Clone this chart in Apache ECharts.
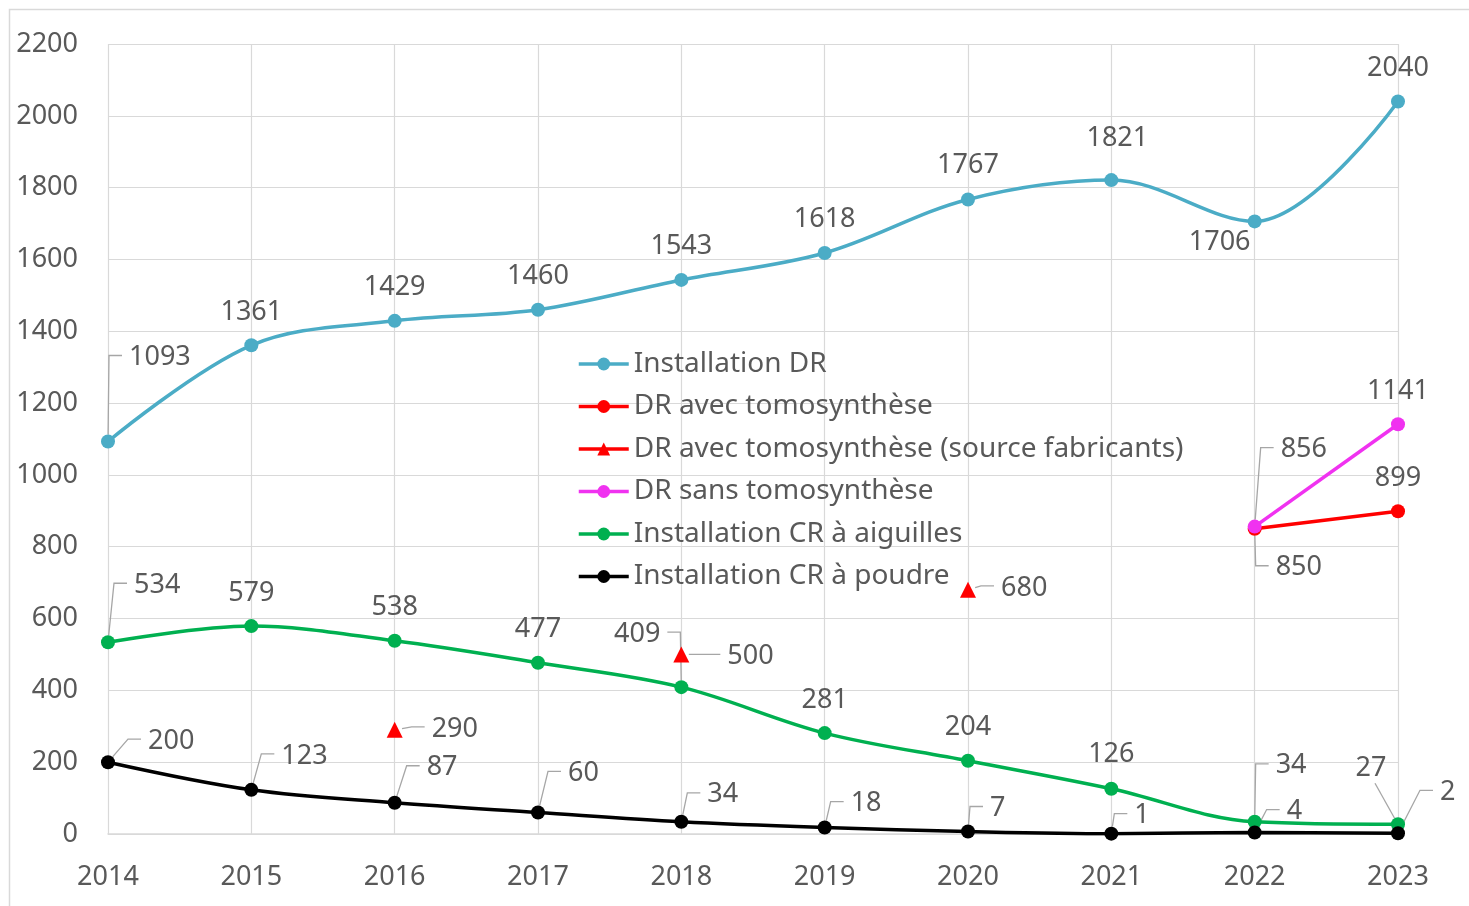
<!DOCTYPE html>
<html><head><meta charset="utf-8">
<script src="https://cdn.jsdelivr.net/npm/echarts@6/dist/echarts.min.js"></script>
<style>html,body{margin:0;padding:0;background:#fff}#chart{width:1469px;height:906px}</style>
</head><body><div id="chart"></div>
<script>
// ---------- DATA ----------
const years = ['2014','2015','2016','2017','2018','2019','2020','2021','2022','2023'];
const yMin = 0, yMax = 2200, yStep = 200;
const seriesNames = [
  'Installation DR',
  'DR avec tomosynthèse',
  'DR avec tomosynthèse (source fabricants)',
  'DR sans tomosynthèse',
  'Installation CR à aiguilles',
  'Installation CR à poudre'
];
const installationDR = [1093, 1361, 1429, 1460, 1543, 1618, 1767, 1821, 1706, 2040];
const drAvecTomo = [null, null, null, null, null, null, null, null, 850, 899];
const drAvecTomoFabricants = [null, null, 290, null, 500, null, 680, null, null, null];
const drSansTomo = [null, null, null, null, null, null, null, null, 856, 1141];
const crAiguilles = [534, 579, 538, 477, 409, 281, 204, 126, 34, 27];
const crPoudre = [200, 123, 87, 60, 34, 18, 7, 1, 4, 2];

// ---------- STYLE (label placement: [dx, dy, mode]) ----------
// mode: c = centred, r = right of point with leader, l = left with leader, b = above with straight leader
const labelPlacement = {
  dr:   [[21,-86,'r'],[0,-35,'c'],[0,-36,'c'],[0,-35,'c'],[0,-36,'c'],[0,-36,'c'],[0,-36,'c'],[6,-44,'c'],[-35,19,'c'],[0,-35,'c']],
  avec: [null,null,null,null,null,null,null,null,[21,37,'r'],[0,-35,'c']],
  fab:  [null,null,[37,-3,'r'],null,[46,0,'r'],null,[33,-4,'r'],null,null,null],
  sans: [null,null,null,null,null,null,null,null,[26,-79,'r'],[0,-35,'c']],
  aig:  [[26,-59,'r'],[0,-35,'c'],[0,-35,'c'],[0,-35,'c'],[-21,-55,'l'],[0,-35,'c'],[0,-35,'c'],[0,-36,'c'],[21,-58,'r'],[-27,-58,'b']],
  pou:  [[40,-23,'r'],[30,-36,'r'],[32,-37,'r'],[30,-41,'r'],[26,-29,'r'],[26,-26,'r'],[22,-25,'r'],[23,-20,'r'],[32,-23,'r'],[42,-43,'r']]
};
const FONT = '"Noto Sans", "Open Sans", sans-serif';
const TXT = '#595959';
const FS = 27;
const LABEL_SHIFT = 2;
const GAP = 7, SEG = 13;
const SMOOTH = 0.35;

function buildData(values, placement) {
  return values.map((v, i) => {
    if (v == null) return null;
    const p = placement[i];
    const align = p[2] === 'r' ? 'left' : (p[2] === 'l' ? 'right' : 'center');
    return {
      value: v,
      label: {
        show: true, position: 'inside', align: align, verticalAlign: 'middle',
        offset: [p[0], p[1] + LABEL_SHIFT], color: TXT, fontSize: FS, fontFamily: FONT,
        textBorderWidth: 0
      }
    };
  });
}
const leaderData = [];
function addLeaders(values, placement, r) {
  values.forEach((v, i) => {
    if (v == null) return;
    const p = placement[i];
    if (p[2] === 'c') return;
    const m = p[2] === 'r' ? 1 : (p[2] === 'l' ? 2 : 3);
    leaderData.push([i, v, p[0], p[1], m, r]);
  });
}
addLeaders(installationDR, labelPlacement.dr, 7);
addLeaders(drAvecTomo, labelPlacement.avec, 7);
addLeaders(drAvecTomoFabricants, labelPlacement.fab, 7.5);
addLeaders(drSansTomo, labelPlacement.sans, 7);
addLeaders(crAiguilles, labelPlacement.aig, 7);
addLeaders(crPoudre, labelPlacement.pou, 7);

function renderLeader(params, api) {
  const p = api.coord([api.value(0), api.value(1)]);
  const dx = api.value(2), dy = api.value(3), m = api.value(4), r = api.value(5);
  let pts;
  if (m === 1 || m === 2) {
    const ex = m === 1 ? p[0] + dx - GAP : p[0] + dx + GAP;
    const ey = p[1] + dy;
    const bx = m === 1 ? ex - SEG : ex + SEG;
    const a = Math.atan2(ey - p[1], bx - p[0]);
    pts = [[p[0] + r * Math.cos(a), p[1] + r * Math.sin(a)], [bx, ey], [ex, ey]];
  } else {
    const ex = p[0] + dx + 4, ey = p[1] + dy + 17;
    const a = Math.atan2(ey - p[1], ex - p[0]);
    pts = [[p[0] + r * Math.cos(a), p[1] + r * Math.sin(a)], [ex, ey]];
  }
  return { type: 'polyline', shape: { points: pts }, style: { stroke: '#a6a6a6', lineWidth: 1.3, fill: null } };
}

function lineSeries(name, values, placement, color, opts) {
  return Object.assign({
    name: name, type: 'line', data: buildData(values, placement),
    symbol: 'circle', symbolSize: 14, showSymbol: true, showAllSymbol: true,
    smooth: false, connectNulls: false,
    itemStyle: { color: color },
    lineStyle: { color: color, width: 3.5 },
    emphasis: { disabled: true },
    z: 3
  }, opts || {});
}

const chart = echarts.init(document.getElementById('chart'), null, { renderer: 'canvas' });
chart.setOption({
  animation: false,
  backgroundColor: '#fff',
  textStyle: { fontFamily: FONT },
  graphic: [{
    type: 'rect', left: 7, top: 7, silent: true, z: -10,
    shape: { x: 0, y: 0, width: 1500, height: 1000 },
    style: { fill: null, stroke: '#d9d9d9', lineWidth: 1.5 }
  }],
  grid: { left: 108, right: 71, top: 44, bottom: 72, containLabel: false, outerBoundsMode: 'none' },
  legend: {
    data: seriesNames,
    orient: 'vertical', left: 572, top: 344,
    itemWidth: 50, itemHeight: 16, itemGap: 12.5,
    lineStyle: { width: 3.5 },
    textStyle: { color: TXT, fontSize: 28, fontFamily: FONT, lineHeight: 30 },
    backgroundColor: 'transparent'
  },
  xAxis: {
    type: 'category', data: years, boundaryGap: false,
    axisLine: { show: true, lineStyle: { color: '#d9d9d9', width: 1.5 } },
    axisTick: { show: false },
    splitLine: { show: true, lineStyle: { color: '#d9d9d9', width: 1.2 } },
    axisLabel: { color: TXT, fontSize: FS, fontFamily: FONT, margin: 30 }
  },
  yAxis: {
    type: 'value', min: yMin, max: yMax, interval: yStep,
    axisLine: { show: false }, axisTick: { show: false },
    splitLine: { show: true, lineStyle: { color: '#d9d9d9', width: 1.2 } },
    axisLabel: { color: TXT, fontSize: FS, fontFamily: FONT, margin: 30, padding: [4, 0, 0, 0], formatter: v => String(v) }
  },
  series: [
    {
      type: 'custom', name: 'leaders', silent: true, z: 2,
      coordinateSystem: 'cartesian2d',
      encode: { x: 0, y: 1 },
      data: leaderData, renderItem: renderLeader
    },
    lineSeries(seriesNames[0], installationDR, labelPlacement.dr, '#4BACC6', { smooth: SMOOTH }),
    lineSeries(seriesNames[1], drAvecTomo, labelPlacement.avec, '#FF0000'),
    lineSeries(seriesNames[2], drAvecTomoFabricants, labelPlacement.fab, '#FF0000', { symbol: 'triangle', symbolSize: 16 }),
    lineSeries(seriesNames[3], drSansTomo, labelPlacement.sans, '#F032F0'),
    lineSeries(seriesNames[4], crAiguilles, labelPlacement.aig, '#00B050', { smooth: SMOOTH }),
    lineSeries(seriesNames[5], crPoudre, labelPlacement.pou, '#000000', { smooth: SMOOTH })
  ]
});
</script>
</body></html>
